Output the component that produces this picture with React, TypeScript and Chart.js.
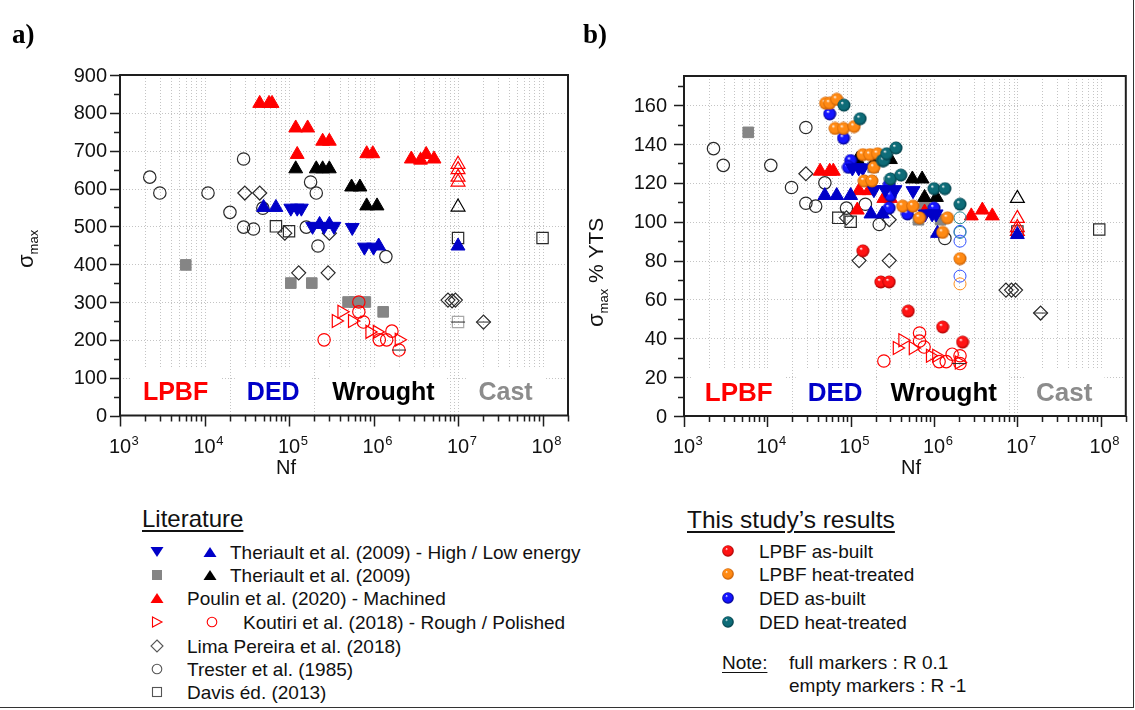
import React, { useEffect, useRef } from 'react';
import { Chart, registerables } from 'chart.js';
Chart.register(...registerables);

const SANS = '"Liberation Sans", Arial, Helvetica, sans-serif';
const SERIF = '"Liberation Serif", "Times New Roman", serif';

// ---------------- Panel a) : sigma_max ----------------
const A_BLUE_DOWN_N = [105000, 125000, 140000, 190000, 260000, 340000, 560000, 780000, 1.0e6];
const A_BLUE_DOWN_S = [548, 548, 548, 500, 500, 500, 497, 445, 445];
const A_BLUE_UP_N = [50000, 70000, 230000, 300000, 1.15e6, 1e7];
const A_BLUE_UP_S = [550, 550, 505, 505, 448, 448];
const A_GREY_SQ_N = [6000, 105000, 186000, 500000, 600000, 800000, 1.3e6];
const A_GREY_SQ_S = [398, 350, 350, 300, 300, 300, 274];
const A_BLACK_UP_N = [120000, 210000, 250000, 300000, 550000, 690000, 830000, 1.1e6];
const A_BLACK_UP_S = [652, 652, 652, 652, 604, 604, 554, 554];
const A_BLACK_OPEN_N = [1e7];
const A_BLACK_OPEN_S = [551];
const A_RED_UP_N = [45000, 58000, 63000, 120000, 166000, 125000, 250000, 300000, 830000, 980000, 2.8e6, 3.6e6, 4.2e6, 5.2e6];
const A_RED_UP_S = [825, 825, 825, 760, 760, 690, 725, 725, 692, 692, 678, 675, 690, 678];
const A_RED_OPEN_N = [1e7, 1e7, 1e7, 1e7];
const A_RED_OPEN_S = [664, 650, 630, 617];
const A_KOU_ROUGH_N = [360000, 420000, 560000, 900000, 1.1e6, 2.0e6];
const A_KOU_ROUGH_S = [250, 274, 250, 221, 221, 200];
const A_KOU_POL_N = [260000, 670000, 670000, 760000, 1.17e6, 1.43e6, 1.65e6, 2.0e6];
const A_KOU_POL_S = [200, 300, 274, 247, 200, 200, 223, 173];
const A_LIMA_N = [30000, 45000, 89000, 130000, 300000, 290000, 7.6e6, 8.5e6, 9.3e6, 2.0e7];
const A_LIMA_S = [588, 588, 482, 377, 482, 377, 305, 303, 305, 247];
const A_TRESTER_N = [2250, 2960, 11000, 20000, 29000, 29000, 38000, 49000, 160000, 180000, 210000, 220000, 1.4e6];
const A_TRESTER_S = [630, 588, 588, 537, 678, 498, 493, 548, 498, 617, 588, 448, 420];
const A_DAVIS_N = [70000, 100000, 1e7, 1e8];
const A_DAVIS_S = [500, 487, 469, 469];
const A_CAST_N = [1e7];
const A_CAST_S = [247];
const A_DASH_N = [1e7, 2.0e7, 2.0e6];
const A_DASH_S = [247, 247, 173];

// ---------------- Panel b) : sigma_max % YTS ----------------
const B_BLUE_DOWN_N = [105000, 125000, 140000, 190000, 260000, 340000, 560000, 780000, 950000, 1.06e6];
const B_BLUE_DOWN_S = [127.7, 127.7, 127.7, 116.5, 116.5, 116.5, 116, 104, 104, 104];
const B_BLUE_UP_N = [49000, 68000, 100000, 175000, 240000, 1.1e6, 1e7];
const B_BLUE_UP_S = [113.5, 113.5, 113.5, 104, 104, 94, 93.4];
const B_GREY_SQ_N = [5900, 186000, 650000, 770000, 1.2e6];
const B_GREY_SQ_S = [146, 128, 101, 109, 101];
const B_BLACK_UP_N = [120000, 200000, 250000, 300000, 550000, 720000, 770000, 1.07e6];
const B_BLACK_UP_S = [132, 132, 132, 132, 122, 122, 112.5, 112.5];
const B_BLACK_OPEN_N = [1e7];
const B_BLACK_OPEN_S = [112];
const B_RED_UP_N = [43000, 56000, 62000, 126000, 166000, 120000, 250000, 300000, 770000, 980000, 2.8e6, 3.8e6, 5.0e6];
const B_RED_UP_S = [126, 126, 126, 116, 116, 106, 112, 112, 105, 105, 103, 106, 103];
const B_RED_OPEN_N = [1e7, 1e7, 1e7];
const B_RED_OPEN_S = [101.7, 97, 95];
const B_KOU_ROUGH_N = [360000, 420000, 560000, 900000, 1.07e6, 2.0e6];
const B_KOU_ROUGH_S = [35, 39, 35, 31, 31, 27.5];
const B_KOU_POL_N = [250000, 670000, 670000, 760000, 1.15e6, 1.4e6, 1.65e6, 2.05e6, 2.05e6];
const B_KOU_POL_S = [28.3, 42.7, 38.6, 35.5, 28, 28, 31.8, 31, 27];
const B_LIMA_N = [29000, 89000, 126000, 290000, 290000, 7.3e6, 8.5e6, 9.5e6, 1.9e7];
const B_LIMA_S = [124.7, 102, 80, 80, 101, 64.8, 64.8, 64.8, 53];
const B_TRESTER_N = [2260, 2960, 11000, 19500, 29000, 29000, 38000, 49000, 89000, 150000, 220000, 1.35e6];
const B_TRESTER_S = [137.6, 129, 129, 117.6, 148.5, 109.5, 108, 120, 107, 109, 98.6, 91.4];
const B_DAVIS_N = [71000, 100000, 1e7, 9.6e7];
const B_DAVIS_S = [102, 100, 95, 96];
const B_DASH_N = [1.9e7, 2.0e6];
const B_DASH_S = [53, 27];

const B_LPBF_AB_N = [140000, 230000, 290000, 490000, 1.27e6, 2.2e6];
const B_LPBF_AB_S = [85, 69, 69, 54, 45.8, 38];
const B_LPBF_HT_N = [50000, 56000, 68000, 65000, 82000, 110000, 140000, 170000, 210000, 190000, 145000, 180000, 420000, 560000, 670000, 1.45e6, 1.27e6, 2.05e6];
const B_LPBF_HT_S = [161, 161, 163, 148, 148, 149, 134.5, 134.5, 135, 128, 121, 121, 108, 108, 102, 102, 94.5, 81];
const B_LPBF_HT_EMPTY_N = [2.05e6];
const B_LPBF_HT_EMPTY_S = [68];
const B_DED_AB_N = [56000, 82000, 100000, 94000, 290000, 300000, 290000, 480000, 1.0e6];
const B_DED_AB_S = [155.5, 143, 131.5, 128, 119, 113.5, 107, 104, 107];
const B_DED_AB_EMPTY_N = [2.05e6, 2.05e6, 2.05e6];
const B_DED_AB_EMPTY_S = [95, 90, 72];
const B_DED_HT_N = [83000, 130000, 240000, 250000, 270000, 350000, 300000, 400000, 1.0e6, 1.35e6, 2.05e6];
const B_DED_HT_S = [160, 153, 131.5, 131.5, 135, 138, 122, 124, 117, 117, 109];
const B_DED_HT_EMPTY_N = [2.05e6, 2.05e6];
const B_DED_HT_EMPTY_S = [102, 94.5];

// region annotations (x position given as Nf value)
const REGION_TEXT = ['LPBF', 'DED', 'Wrought', 'Cast'];
const REGION_N = [4540, 65000, 1.31e6, 3.65e7];
const REGION_COLOR = ['#ff0000', '#0000c8', '#000000', '#8c8c8c'];

const A_Y_TICKS = [0, 100, 200, 300, 400, 500, 600, 700, 800, 900];
const B_Y_TICKS = [0, 20, 40, 60, 80, 100, 120, 140, 160];
const X_EXPONENTS = [3, 4, 5, 6, 7, 8];

const RED = '#ff0000';
const BLUE = '#0000c8';
const BLACK = '#000000';
const GREY = '#858585';
const DARK = '#2a2a2a';
const NONE = 'rgba(0,0,0,0)';

const pts = (n: number[], s: number[]) => n.map((v, i) => ({ x: v, y: s[i] }));

function style(shape: string, fill: string, stroke: string, r: number, rot = 0, bw = 1.2): any {
  return {
    pointStyle: shape,
    pointRadius: r,
    pointRotation: rot,
    pointBackgroundColor: fill,
    pointBorderColor: stroke,
    pointBorderWidth: bw,
    pointHoverRadius: r,
    showLine: false,
  };
}

function makeSphere(base: string, dark: string) {
  const s = 14;
  const c = document.createElement('canvas');
  c.width = s;
  c.height = s;
  const g = c.getContext('2d')!;
  const grd = g.createRadialGradient(5, 4.5, 0.3, 7, 7, 6.6);
  grd.addColorStop(0, '#ffffff');
  grd.addColorStop(0.22, base);
  grd.addColorStop(0.7, base);
  grd.addColorStop(1, dark);
  g.fillStyle = grd;
  g.beginPath();
  g.arc(7, 7, 6.5, 0, Math.PI * 2);
  g.fill();
  return c;
}

type PanelCfg = {
  yMax: number;
  yStep: number;
  yMinor: number;
  yTicks: number[];
  labelSize: number;
  yLabelGap: number;
  nfX: number;
  title: { bx: number; by: number; parts: { t: string; size: number; dy: number }[] };
};

function panelPlugin(cfg: PanelCfg) {
  return {
    id: 'panelDeco',
    beforeDatasetsDraw(chart: any) {
      const { ctx, chartArea: a } = chart;
      const x = chart.scales.x;
      const y = chart.scales.y;
      ctx.save();
      ctx.strokeStyle = '#c4c4c4';
      ctx.lineWidth = 1;
      ctx.setLineDash([1, 2]);
      ctx.beginPath();
      for (const e of X_EXPONENTS) {
        for (let m = 1; m <= 9; m++) {
          const v = m * Math.pow(10, e);
          if (v <= x.min || v >= x.max) continue;
          const px = Math.round(x.getPixelForValue(v)) + 0.5;
          ctx.moveTo(px, a.top);
          ctx.lineTo(px, a.bottom);
        }
      }
      for (const v of cfg.yTicks) {
        if (v <= 0 || v >= cfg.yMax) continue;
        const py = Math.round(y.getPixelForValue(v)) + 0.5;
        ctx.moveTo(a.left, py);
        ctx.lineTo(a.right, py);
      }
      ctx.stroke();
      ctx.setLineDash([]);
      // region labels on white boxes
      ctx.font = `bold ${cfg.labelSize}px ${SANS}`;
      ctx.textAlign = 'center';
      ctx.textBaseline = 'alphabetic';
      const base = a.bottom - 15.5;
      for (let i = 0; i < REGION_TEXT.length; i++) {
        const cx = x.getPixelForValue(REGION_N[i]);
        const w = ctx.measureText(REGION_TEXT[i]).width;
        ctx.fillStyle = '#ffffff';
        ctx.fillRect(cx - w / 2 - 12, base - 32, w + 24, a.bottom - (base - 32) - 1);
        ctx.fillStyle = REGION_COLOR[i];
        ctx.fillText(REGION_TEXT[i], cx, base);
      }
      ctx.restore();
    },
    afterDatasetsDraw(chart: any) {
      const { ctx, chartArea: a } = chart;
      const x = chart.scales.x;
      const y = chart.scales.y;
      ctx.save();
      // frame
      ctx.strokeStyle = '#1e1e1e';
      ctx.lineWidth = 2;
      ctx.strokeRect(a.left, a.top, a.right - a.left, a.bottom - a.top);
      // y ticks
      ctx.lineWidth = 1.5;
      ctx.beginPath();
      for (let v = 0; v <= cfg.yMax + 1e-9; v += cfg.yMinor) {
        const major = Math.abs(v / cfg.yStep - Math.round(v / cfg.yStep)) < 1e-6;
        const len = major ? 10 : 6;
        const py = Math.round(y.getPixelForValue(v)) + 0.5;
        ctx.moveTo(a.left - len, py);
        ctx.lineTo(a.left, py);
      }
      // x ticks
      for (const e of X_EXPONENTS) {
        for (let m = 1; m <= 9; m++) {
          const v = m * Math.pow(10, e);
          if (v < x.min - 1 || v > x.max) continue;
          const len = m === 1 ? 11 : 6;
          const px = Math.round(x.getPixelForValue(v)) + 0.5;
          ctx.moveTo(px, a.bottom);
          ctx.lineTo(px, a.bottom + len);
        }
      }
      ctx.stroke();
      // y labels
      ctx.fillStyle = '#111';
      ctx.font = `20px ${SANS}`;
      ctx.textAlign = 'right';
      ctx.textBaseline = 'middle';
      for (const v of cfg.yTicks) {
        ctx.fillText(String(v), a.left - cfg.yLabelGap, y.getPixelForValue(v) + 1);
      }
      // x labels 10^n
      ctx.textBaseline = 'alphabetic';
      for (const e of X_EXPONENTS) {
        const px = x.getPixelForValue(Math.pow(10, e));
        ctx.font = `20px ${SANS}`;
        ctx.textAlign = 'center';
        const w = ctx.measureText('10').width;
        ctx.fillText('10', px, a.bottom + 37);
        ctx.font = `13px ${SANS}`;
        ctx.textAlign = 'left';
        ctx.fillText(String(e), px + w / 2 + 0.5, a.bottom + 29);
      }
      // x title
      ctx.font = `20px ${SANS}`;
      ctx.textAlign = 'center';
      ctx.fillText('Nf', cfg.nfX, a.bottom + 58);
      // y title
      ctx.translate(cfg.title.bx, cfg.title.by);
      ctx.rotate(-Math.PI / 2);
      ctx.textAlign = 'left';
      let cx = 0;
      for (const p of cfg.title.parts) {
        ctx.font = `${p.size}px ${SANS}`;
        ctx.fillText(p.t, cx, p.dy);
        cx += ctx.measureText(p.t).width;
      }
      ctx.restore();
    },
  };
}

function baseOptions(padding: any, yMax: number): any {
  return {
    responsive: false,
    maintainAspectRatio: false,
    animation: false,
    events: [],
    layout: { padding },
    plugins: { legend: { display: false }, tooltip: { enabled: false } },
    scales: {
      x: { type: 'logarithmic', min: 1000, max: 2e8, display: false, bounds: 'data' },
      y: { type: 'linear', min: 0, max: yMax, display: false, bounds: 'data' },
    },
  };
}

function withOrder(list: any[]) {
  return list.map((d, i) => ({ ...d, order: -i }));
}

function literatureA() {
  return [
    { data: pts(A_GREY_SQ_N, A_GREY_SQ_S), ...style('rect', GREY, GREY, 7.5, 0, 1) },
    { data: pts(A_DAVIS_N, A_DAVIS_S), ...style('rect', NONE, DARK, 8) },
    { data: pts(A_CAST_N, A_CAST_S), ...style('rect', NONE, '#a8a8a8', 8) },
    { data: pts(A_TRESTER_N, A_TRESTER_S), ...style('circle', NONE, DARK, 6.2) },
    { data: pts(A_LIMA_N, A_LIMA_S), ...style('rectRot', NONE, DARK, 7) },
    { data: pts(A_BLACK_UP_N, A_BLACK_UP_S), ...style('triangle', BLACK, BLACK, 8, 0, 1) },
    { data: pts(A_BLACK_OPEN_N, A_BLACK_OPEN_S), ...style('triangle', NONE, BLACK, 8) },
    { data: pts(A_BLUE_DOWN_N, A_BLUE_DOWN_S), ...style('triangle', BLUE, BLUE, 8, 180, 1) },
    { data: pts(A_BLUE_UP_N, A_BLUE_UP_S), ...style('triangle', BLUE, BLUE, 8, 0, 1) },
    { data: pts(A_RED_UP_N, A_RED_UP_S), ...style('triangle', RED, RED, 8, 0, 1) },
    { data: pts(A_RED_OPEN_N, A_RED_OPEN_S), ...style('triangle', NONE, RED, 8) },
    { data: pts(A_KOU_ROUGH_N, A_KOU_ROUGH_S), ...style('triangle', NONE, RED, 7.5, 90) },
    { data: pts(A_KOU_POL_N, A_KOU_POL_S), ...style('circle', NONE, RED, 6.2) },
    { data: pts(A_DASH_N, A_DASH_S), ...style('line', NONE, DARK, 7, 0, 1) },
  ];
}

function datasetsB(sph: Record<string, HTMLCanvasElement>) {
  return [
    { data: pts(B_GREY_SQ_N, B_GREY_SQ_S), ...style('rect', GREY, GREY, 7.5, 0, 1) },
    { data: pts(B_DAVIS_N, B_DAVIS_S), ...style('rect', NONE, DARK, 8) },
    { data: pts(B_TRESTER_N, B_TRESTER_S), ...style('circle', NONE, DARK, 6.2) },
    { data: pts(B_LIMA_N, B_LIMA_S), ...style('rectRot', NONE, DARK, 7) },
    { data: pts(B_BLACK_UP_N, B_BLACK_UP_S), ...style('triangle', BLACK, BLACK, 8, 0, 1) },
    { data: pts(B_BLACK_OPEN_N, B_BLACK_OPEN_S), ...style('triangle', NONE, BLACK, 8) },
    { data: pts(B_RED_UP_N, B_RED_UP_S), ...style('triangle', RED, RED, 8, 0, 1) },
    { data: pts(B_RED_OPEN_N, B_RED_OPEN_S), ...style('triangle', NONE, RED, 8) },
    { data: pts(B_KOU_ROUGH_N, B_KOU_ROUGH_S), ...style('triangle', NONE, RED, 7.5, 90) },
    { data: pts(B_KOU_POL_N, B_KOU_POL_S), ...style('circle', NONE, RED, 6.2) },
    { data: pts(B_DASH_N, B_DASH_S), ...style('line', NONE, DARK, 7, 0, 1) },
    { data: pts(B_LPBF_HT_EMPTY_N, B_LPBF_HT_EMPTY_S), ...style('circle', NONE, '#ff9020', 6, 0, 1) },
    { data: pts(B_DED_AB_EMPTY_N, B_DED_AB_EMPTY_S), ...style('circle', NONE, '#3050ff', 6, 0, 1) },
    { data: pts(B_DED_HT_EMPTY_N, B_DED_HT_EMPTY_S), ...style('circle', NONE, '#2a8a98', 6, 0, 1) },
    { data: pts(B_DED_AB_N, B_DED_AB_S), ...style(sph.blue as any, NONE, NONE, 7) },
    { data: pts(B_BLUE_DOWN_N, B_BLUE_DOWN_S), ...style('triangle', BLUE, BLUE, 8, 180, 1) },
    { data: pts(B_BLUE_UP_N, B_BLUE_UP_S), ...style('triangle', BLUE, BLUE, 8, 0, 1) },
    { data: pts(B_LPBF_AB_N, B_LPBF_AB_S), ...style(sph.red as any, NONE, NONE, 7) },
    { data: pts(B_LPBF_HT_N, B_LPBF_HT_S), ...style(sph.orange as any, NONE, NONE, 7) },
    { data: pts(B_DED_HT_N, B_DED_HT_S), ...style(sph.teal as any, NONE, NONE, 7) },
  ];
}

function Mark({ kind, color, x, y }: { kind: string; color: string; x: number; y: number }) {
  let el: any = null;
  if (kind === 'triUp') el = <polygon points="7,2 13.5,12 0.5,12" fill={color} />;
  else if (kind === 'triDown') el = <polygon points="0.5,2 13.5,2 7,12" fill={color} />;
  else if (kind === 'sq') el = <rect x="2" y="2" width="10" height="10" fill={color} />;
  else if (kind === 'sqOpen') el = <rect x="2.5" y="2.5" width="9" height="9" fill="none" stroke={color} strokeWidth="1.1" />;
  else if (kind === 'triRightOpen') el = <polygon points="2.5,2 12,7 2.5,12" fill="none" stroke={color} strokeWidth="1.1" />;
  else if (kind === 'circOpen') el = <circle cx="7" cy="7" r="4.8" fill="none" stroke={color} strokeWidth="1.1" />;
  else if (kind === 'diaOpen') el = <polygon points="7,1 13,7 7,13 1,7" fill="none" stroke={color} strokeWidth="1.1" />;
  return (
    <svg width={14} height={14} style={{ position: 'absolute', left: x - 7, top: y - 7 }}>
      {el}
    </svg>
  );
}

function Sphere({ id, base, dark, x, y }: { id: string; base: string; dark: string; x: number; y: number }) {
  return (
    <svg width={14} height={14} style={{ position: 'absolute', left: x - 7, top: y - 7 }}>
      <defs>
        <radialGradient id={id} cx="50%" cy="50%" r="50%" fx="35%" fy="30%">
          <stop offset="0" stopColor="#ffffff" />
          <stop offset="0.25" stopColor={base} />
          <stop offset="0.7" stopColor={base} />
          <stop offset="1" stopColor={dark} />
        </radialGradient>
      </defs>
      <circle cx="7" cy="7" r="5.8" fill={`url(#${id})`} />
    </svg>
  );
}

function Txt({ x, cy, size, children, underline }: any) {
  return (
    <div
      style={{
        position: 'absolute',
        left: x,
        top: cy - 0.488 * size,
        fontSize: size,
        lineHeight: `${size}px`,
        whiteSpace: 'nowrap',
        color: '#111',
        fontFamily: SANS,
        textDecoration: underline ? 'underline' : 'none',
        textUnderlineOffset: '3px',
      }}
    >
      {children}
    </div>
  );
}

export default function App() {
  const refA = useRef<HTMLCanvasElement>(null);
  const refB = useRef<HTMLCanvasElement>(null);

  useEffect(() => {
    const sph = {
      red: makeSphere('#ff1414', '#a00000'),
      orange: makeSphere('#ff8a14', '#c05800'),
      blue: makeSphere('#1414ff', '#000080'),
      teal: makeSphere('#0e6c78', '#003a44'),
    };
    const cfgA: PanelCfg = {
      yMax: 900,
      yStep: 100,
      yMinor: 50,
      yTicks: A_Y_TICKS,
      labelSize: 25,
      yLabelGap: 13,
      nfX: 286,
      title: {
        bx: 33,
        by: 268,
        parts: [
          { t: 'σ', size: 22, dy: 0 },
          { t: 'max', size: 13, dy: 5 },
        ],
      },
    };
    const cfgB: PanelCfg = {
      yMax: 175,
      yStep: 20,
      yMinor: 10,
      yTicks: B_Y_TICKS,
      labelSize: 26,
      yLabelGap: 17,
      nfX: 911,
      title: {
        bx: 603,
        by: 327,
        parts: [
          { t: 'σ', size: 22, dy: 0 },
          { t: 'max', size: 13, dy: 5 },
          { t: ' % YTS', size: 21, dy: 0 },
        ],
      },
    };
    const chartA = new Chart(refA.current!, {
      type: 'scatter',
      data: { datasets: withOrder(literatureA()) },
      options: baseOptions({ left: 120, top: 75, right: 1135 - 568, bottom: 480 - 415.5 }, 900),
      plugins: [panelPlugin(cfgA)],
    } as any);
    const chartB = new Chart(refB.current!, {
      type: 'scatter',
      data: { datasets: withOrder(datasetsB(sph)) },
      options: baseOptions({ left: 684, top: 76, right: 2, bottom: 64 }, 175),
      plugins: [panelPlugin(cfgB)],
    } as any);
    return () => {
      chartA.destroy();
      chartB.destroy();
    };
  }, []);

  const rowsL = [552, 575, 598, 622, 646, 669, 692];
  const rowsR = [551, 574, 598, 622];

  return (
    <div
      style={{
        position: 'absolute',
        left: 0,
        top: 0,
        width: 1135,
        height: 710,
        background: '#ffffff',
        overflow: 'hidden',
        fontFamily: SANS,
      }}
    >
      <canvas ref={refA} width={1135} height={480} style={{ position: 'absolute', left: 0, top: 0, width: 1135, height: 480 }} />
      <canvas ref={refB} width={1135} height={480} style={{ position: 'absolute', left: 0, top: 0, width: 1135, height: 480 }} />

      <div style={{ position: 'absolute', left: 12, top: 21, fontFamily: SERIF, fontWeight: 'bold', fontSize: 27, lineHeight: '27px' }}>a)</div>
      <div style={{ position: 'absolute', left: 583, top: 21, fontFamily: SERIF, fontWeight: 'bold', fontSize: 27, lineHeight: '27px' }}>b)</div>

      {/* Literature legend */}
      <Txt x={142} cy={518.5} size={24} underline>Literature</Txt>
      <Mark kind="triDown" color={BLUE} x={157} y={rowsL[0]} />
      <Mark kind="triUp" color={BLUE} x={210} y={rowsL[0]} />
      <Txt x={230} cy={rowsL[0]} size={19}>Theriault et al. (2009) - High / Low energy</Txt>
      <Mark kind="sq" color={GREY} x={157} y={rowsL[1]} />
      <Mark kind="triUp" color={BLACK} x={210} y={rowsL[1]} />
      <Txt x={230} cy={rowsL[1]} size={19}>Theriault et al. (2009)</Txt>
      <Mark kind="triUp" color={RED} x={157} y={rowsL[2]} />
      <Txt x={187} cy={rowsL[2]} size={19}>Poulin et al. (2020) - Machined</Txt>
      <Mark kind="triRightOpen" color={RED} x={157} y={rowsL[3]} />
      <Mark kind="circOpen" color={RED} x={212} y={rowsL[3]} />
      <Txt x={243} cy={rowsL[3]} size={19}>Koutiri et al. (2018) - Rough / Polished</Txt>
      <Mark kind="diaOpen" color="#555" x={157} y={rowsL[4]} />
      <Txt x={187} cy={rowsL[4]} size={19}>Lima Pereira et al. (2018)</Txt>
      <Mark kind="circOpen" color="#555" x={157} y={rowsL[5]} />
      <Txt x={187} cy={rowsL[5]} size={19}>Trester et al. (1985)</Txt>
      <Mark kind="sqOpen" color="#555" x={157} y={rowsL[6]} />
      <Txt x={187} cy={rowsL[6]} size={19}>Davis éd. (2013)</Txt>

      {/* Study legend */}
      <Txt x={687} cy={520} size={24.5} underline>This study’s results</Txt>
      <Sphere id="gr" base="#ff1414" dark="#a00000" x={728} y={rowsR[0]} />
      <Txt x={759} cy={rowsR[0]} size={19}>LPBF as-built</Txt>
      <Sphere id="go" base="#ff8a14" dark="#c05800" x={728} y={rowsR[1]} />
      <Txt x={759} cy={rowsR[1]} size={19}>LPBF heat-treated</Txt>
      <Sphere id="gb" base="#1414ff" dark="#000080" x={728} y={rowsR[2]} />
      <Txt x={759} cy={rowsR[2]} size={19}>DED as-built</Txt>
      <Sphere id="gt" base="#0e6c78" dark="#003a44" x={728} y={rowsR[3]} />
      <Txt x={759} cy={rowsR[3]} size={19}>DED heat-treated</Txt>
      <Txt x={722} cy={662} size={19} underline>Note:</Txt>
      <Txt x={789} cy={662} size={19}>full markers : R 0.1</Txt>
      <Txt x={789} cy={685} size={19}>empty markers : R -1</Txt>

      <div
        style={{
          position: 'absolute',
          left: 0,
          top: 0,
          width: 1134,
          height: 708,
          borderRight: '1px solid #333',
          borderBottom: '1px solid #333',
          boxSizing: 'border-box',
          pointerEvents: 'none',
        }}
      />
    </div>
  );
}
